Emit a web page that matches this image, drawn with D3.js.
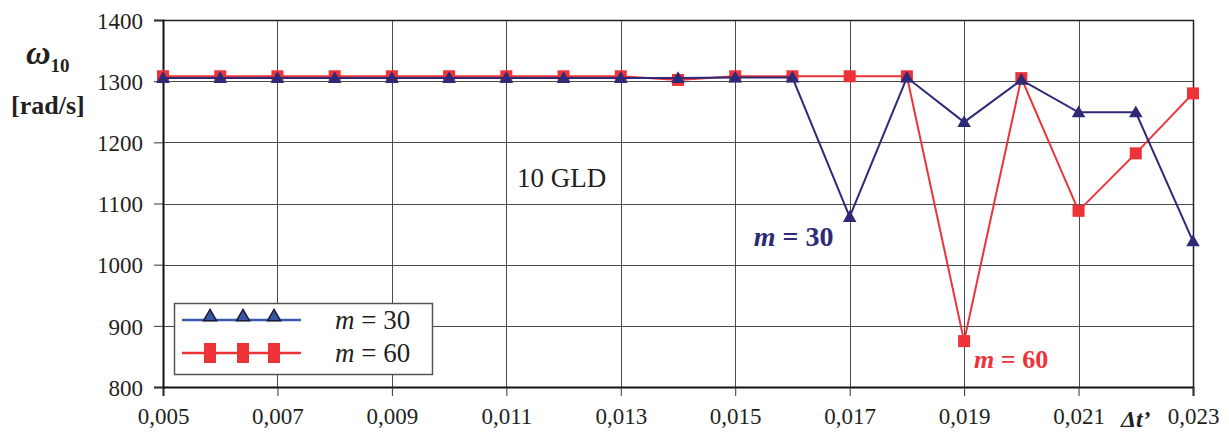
<!DOCTYPE html>
<html lang="en">
<head>
<meta charset="utf-8">
<title></title>
<style>
  body { margin: 0; background: #fff; }
  svg { display: block; font-family: "Liberation Serif", "Times New Roman", serif; }
  .grid line { stroke: #4a4a4a; stroke-width: 1; shape-rendering: crispEdges; }
</style>
</head>
<body>
<div id="container"></div>
<script src="https://cdnjs.cloudflare.com/ajax/libs/d3/7.8.5/d3.min.js"></script>
<script>
// data
var dt = [0.005, 0.006, 0.007, 0.008, 0.009, 0.010, 0.011, 0.012, 0.013, 0.014,
          0.015, 0.016, 0.017, 0.018, 0.019, 0.020, 0.021, 0.022, 0.023];
var m30 = [1305, 1305, 1305, 1305, 1305, 1305, 1305, 1305, 1305, 1305,
           1306, 1306, 1078, 1306, 1233, 1302, 1249, 1249, 1038];
var m60 = [1308, 1308, 1308, 1308, 1308, 1308, 1308, 1308, 1308, 1302,
           1308, 1308, 1308, 1308, 875, 1305, 1088, 1182, 1280];
var xTicks = [0.005, 0.007, 0.009, 0.011, 0.013, 0.015, 0.017, 0.019, 0.021, 0.023];
var yTicks = [800, 900, 1000, 1100, 1200, 1300, 1400];
var seriesNames = ["m = 30", "m = 60"];

var W = 1229, H = 439;
var margin = {top: 20, right: 36, bottom: 52, left: 163};
var width = W - margin.left - margin.right,
    height = H - margin.top - margin.bottom;

var navy = "#2e2a78", red = "#ee3338";
var serif = "Liberation Serif, serif";

var svg = d3.select("#container").append("svg")
  .attr("width", W).attr("height", H);

var chart = svg.append("g")
  .attr("transform", "translate(" + margin.left + "," + margin.top + ")");

var x = d3.scaleLinear().domain([0.005, 0.023]).range([0, width]);
var y = d3.scaleLinear().domain([800, 1400]).range([height, 0]);

// grid
var grid = chart.append("g").attr("class", "grid");
grid.selectAll("line.h").data(yTicks.slice(1)).enter().append("line")
  .attr("x1", 0).attr("x2", width)
  .attr("y1", d => Math.round(y(d)) + 0.5).attr("y2", d => Math.round(y(d)) + 0.5);
grid.selectAll("line.v").data(xTicks.slice(1)).enter().append("line")
  .attr("y1", 0).attr("y2", height)
  .attr("x1", d => Math.round(x(d)) + 0.5).attr("x2", d => Math.round(x(d)) + 0.5);
// top / right border
chart.append("path")
  .attr("d", "M0,0.5H" + (width + 0.5) + "V" + height)
  .attr("fill", "none").attr("stroke", "#222").attr("stroke-width", 1.5);

// axes
var fmt = d => d.toFixed(3).replace(".", ",");
var xAxis = chart.append("g")
  .attr("transform", "translate(0," + height + ")")
  .call(d3.axisBottom(x).tickValues(xTicks).tickFormat(fmt).tickSize(9).tickPadding(12));
var yAxis = chart.append("g")
  .call(d3.axisLeft(y).tickValues(yTicks).tickFormat(d3.format("d")).tickSize(9).tickPadding(11));
[xAxis, yAxis].forEach(function(ax) {
  ax.attr("font-family", serif).attr("font-size", 23);
  ax.select(".domain").attr("stroke", "#111").attr("stroke-width", 2);
  ax.selectAll(".tick line").attr("stroke", "#333");
  ax.selectAll(".tick text")
    .style("font-family", serif).style("font-size", "23px").attr("fill", "#231f20");
});
yAxis.selectAll(".tick text").attr("dy", "0.36em");

// x axis name
chart.append("text")
  .attr("x", x(0.022)).attr("y", height + 40)
  .attr("text-anchor", "middle")
  .style("font-size", "24px").style("font-weight", "bold").style("font-style", "italic")
  .attr("fill", "#231f20")
  .text("\u0394t\u2019");

// y axis name
var yl = svg.append("text").attr("x", 26).attr("y", 64)
  .style("font-weight", "bold").attr("fill", "#231f20");
yl.append("tspan").style("font-size", "34px").style("font-style", "italic").text("\u03c9");
yl.append("tspan").style("font-size", "19px").attr("dy", 8).text("10");
svg.append("text").attr("x", 11).attr("y", 114)
  .style("font-size", "26px").style("font-weight", "bold").attr("fill", "#231f20")
  .text("[rad/s]");

// series
var line = d3.line().x((d, i) => x(dt[i])).y(d => y(d));
chart.append("path").datum(m60).attr("d", line)
  .attr("fill", "none").attr("stroke", red).attr("stroke-width", 2);
chart.selectAll("rect.m60").data(m60).enter().append("rect")
  .attr("x", (d, i) => x(dt[i]) - 6).attr("y", d => y(d) - 6)
  .attr("width", 12).attr("height", 12).attr("fill", red);

chart.append("path").datum(m30).attr("d", line)
  .attr("fill", "none").attr("stroke", navy).attr("stroke-width", 2);
var tri = d3.symbol().type(d3.symbolTriangle).size(80);
chart.selectAll("path.m30").data(m30).enter().append("path")
  .attr("d", tri)
  .attr("transform", (d, i) => "translate(" + x(dt[i]) + "," + (y(d) + 1) + ")")
  .attr("fill", navy);

// annotations
chart.append("text")
  .attr("transform", "translate(" + (x(0.017) - 96) + "," + (y(1078) + 29) + ")")
  .style("font-size", "28px").style("font-weight", "bold").attr("fill", navy)
  .html('<tspan font-style="italic">m</tspan> = 30');
chart.append("text")
  .attr("transform", "translate(" + (x(0.019) + 10) + "," + (y(875) + 27) + ")")
  .style("font-size", "26px").style("font-weight", "bold").attr("fill", red)
  .html('<tspan font-style="italic">m</tspan> = 60');
chart.append("text")
  .attr("x", 354).attr("y", 167)
  .style("font-size", "27px").attr("fill", "#231f20")
  .text("10 GLD");

// legend
var lg = svg.append("g").attr("transform", "translate(174,303)");
lg.append("rect").attr("x", 0.5).attr("y", 0.5).attr("width", 258).attr("height", 71)
  .attr("fill", "#fff").attr("stroke", "#555").attr("stroke-width", 1.5);
var mk = [36, 69, 100];
seriesNames.forEach(function(name, k) {
  var cy = k === 0 ? 17 : 50;
  var col = k === 0 ? "#3a5aab" : red;
  lg.append("line").attr("x1", 8).attr("x2", 127).attr("y1", cy).attr("y2", cy)
    .attr("stroke", col).attr("stroke-width", 2.5);
  mk.forEach(function(mx) {
    if (k === 0) {
      lg.append("path").attr("d", d3.symbol().type(d3.symbolTriangle).size(75))
        .attr("transform", "translate(" + mx + "," + (cy - 3) + ")")
        .attr("fill", "#3b55a3").attr("stroke", "#1c1c3a").attr("stroke-width", 1.5);
    } else {
      lg.append("rect").attr("x", mx - 6).attr("y", cy - 10).attr("width", 12).attr("height", 20)
        .attr("fill", red);
    }
  });
  var t = lg.append("text").attr("x", 161).attr("y", cy + 9)
    .style("font-size", "27px").attr("fill", "#231f20");
  t.append("tspan").style("font-style", "italic").text(name.split(" ")[0]);
  t.append("tspan").text(" " + name.split(" ").slice(1).join(" "));
});
</script>
</body>
</html>
